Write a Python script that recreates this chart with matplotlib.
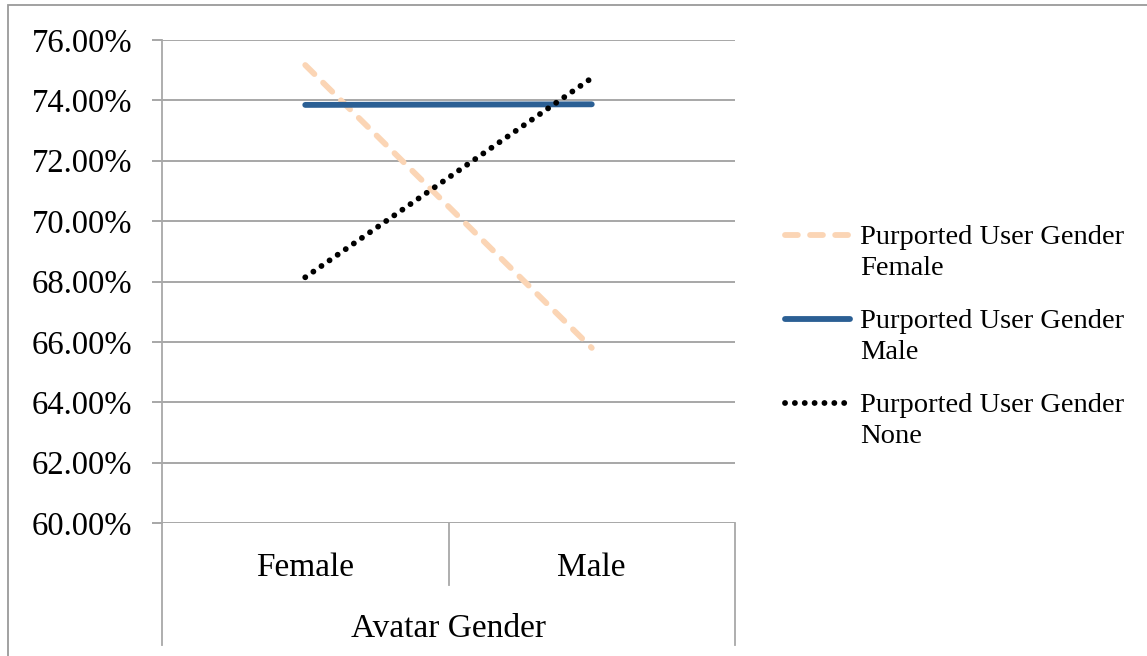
import matplotlib
matplotlib.use("Agg")
import matplotlib.pyplot as plt
from matplotlib.lines import Line2D
from matplotlib.patches import Rectangle
from matplotlib.ticker import FuncFormatter, MultipleLocator
import matplotlib.transforms as mtransforms

plt.rcParams['font.family'] = ['Liberation Serif', 'DejaVu Serif']

# avatar gender on the x axis, one line per purported user gender
avatar_gender = ['Female', 'Male']
user_female = [75.17, 65.80]
user_male = [73.85, 73.87]
user_none = [68.14, 74.74]

series_labels = ['Purported User Gender\nFemale',
                 'Purported User Gender\nMale',
                 'Purported User Gender\nNone']

W, H = 1147, 656
fig = plt.figure(figsize=(W / 100, H / 100), dpi=100)

# chart area border (top and left edges visible)
fig.patches.append(Rectangle((8 / W, -0.1), 1.2, 1 - 5 / H + 0.1,
                             transform=fig.transFigure, fill=False,
                             edgecolor='#9a9a9a', linewidth=1.3))

ax = fig.add_axes([162 / W, 1 - 523 / H, (735 - 162) / W, (523 - 40) / H])

x = [0.5, 1.5]
styles = [
    dict(color='#fbd5b5', linewidth=4.2, linestyle=(0, (2.2, 2.1)),
         dash_capstyle='round', solid_capstyle='round'),
    dict(color='#2b5f94', linewidth=4.2, linestyle='-',
         solid_capstyle='round'),
    dict(color='black', linewidth=4.2, linestyle=(0, (0.01, 1.68)),
         dash_capstyle='round'),
]
for vals, st in zip([user_female, user_male, user_none], styles):
    ax.plot(x, vals, zorder=3, **st)

ax.set_xlim(0, 2)
ax.set_ylim(60, 76)
ax.yaxis.set_major_locator(MultipleLocator(2))
ax.yaxis.set_major_formatter(FuncFormatter(lambda v, p: f"{v:.2f}%"))
ax.grid(axis='y', color='#a0a0a0', linewidth=1.3)
ax.set_axisbelow(True)
for s in ['top', 'right', 'bottom']:
    ax.spines[s].set_visible(False)
ax.spines['left'].set_color('#a8a8a8')
ax.spines['left'].set_linewidth(1.3)
ax.tick_params(axis='y', direction='out', length=7.5, width=1.3,
               color='#a0a0a0', pad=14, labelsize=23.5)
ax.set_xticks([])

# two-level category axis drawn below the plot
trans = mtransforms.blended_transform_factory(ax.transData, ax.transAxes)
px = 1 / (523 - 40)
for xv, drop in [(0, 122), (1, 62), (2, 122)]:
    ax.add_line(Line2D([xv, xv], [0, -drop * px], transform=trans,
                       color='#a8a8a8', linewidth=1.3, clip_on=False))
for xv, name in zip(x, avatar_gender):
    ax.text(xv, -45 * px, name, transform=trans, ha='center', va='center',
            fontsize=24)
ax.text(1, -106 * px, 'Avatar Gender', transform=trans, ha='center',
        va='center', fontsize=24)

# legend on the right, handle aligned with the first text line
for i, (lab, st) in enumerate(zip(series_labels, styles)):
    yc = 1 - (235 + 84 * i) / H
    fig.add_artist(Line2D([785 / W, 850 / W], [yc, yc],
                          transform=fig.transFigure, **st))
    fig.text(860 / W, yc + 10 / H, lab, ha='left', va='top',
             fontsize=20.5, linespacing=1.32)

fig.savefig('out.png', dpi=100)
